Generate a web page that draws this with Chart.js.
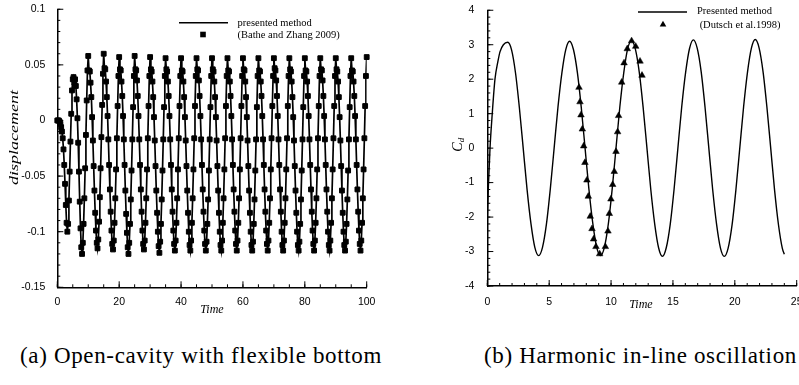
<!DOCTYPE html>
<html><head><meta charset="utf-8">
<script src="https://cdn.jsdelivr.net/npm/chart.js@4.4.1/dist/chart.umd.min.js"></script>
<style>
html,body{margin:0;padding:0;background:#fff;}
#wrap{position:relative;width:799px;height:385px;overflow:hidden;background:#fff;}
canvas{position:absolute;top:0;}
.cap{position:absolute;font-family:'Liberation Serif',serif;font-size:23px;color:#000;white-space:nowrap;line-height:1;}
</style></head>
<body><div id="wrap">
<canvas id="c1" width="400" height="335" style="left:0"></canvas>
<canvas id="c2" width="420" height="335" style="left:400px"></canvas>
<div class="cap" id="capA" style="left:20px;top:344px">(a) Open-cavity with flexible bottom</div>
<div class="cap" id="capB" style="left:484px;top:344px">(b) Harmonic in-line oscillation</div>
</div>
<script>
// ---------------- data: (a) open cavity displacement ----------------
const dispTime = [
0,0.25,0.5,0.75,1,1.25,1.5,1.75,2,2.25,2.5,2.75,3,3.25,3.5,3.75,4,4.25,4.5,4.75,
5,5.25,5.5,5.75,6,6.25,6.5,6.75,7,7.25,7.5,7.75,8,8.25,8.5,8.75,9,9.25,9.5,9.75,
10,10.25,10.5,10.75,11,11.25,11.5,11.75,12,12.25,12.5,12.75,13,13.25,13.5,13.75,14,14.25,14.5,14.75,
15,15.25,15.5,15.75,16,16.25,16.5,16.75,17,17.25,17.5,17.75,18,18.25,18.5,18.75,19,19.25,19.5,19.75,
20,20.25,20.5,20.75,21,21.25,21.5,21.75,22,22.25,22.5,22.75,23,23.25,23.5,23.75,24,24.25,24.5,24.75,
25,25.25,25.5,25.75,26,26.25,26.5,26.75,27,27.25,27.5,27.75,28,28.25,28.5,28.75,29,29.25,29.5,29.75,
30,30.25,30.5,30.75,31,31.25,31.5,31.75,32,32.25,32.5,32.75,33,33.25,33.5,33.75,34,34.25,34.5,34.75,
35,35.25,35.5,35.75,36,36.25,36.5,36.75,37,37.25,37.5,37.75,38,38.25,38.5,38.75,39,39.25,39.5,39.75,
40,40.25,40.5,40.75,41,41.25,41.5,41.75,42,42.25,42.5,42.75,43,43.25,43.5,43.75,44,44.25,44.5,44.75,
45,45.25,45.5,45.75,46,46.25,46.5,46.75,47,47.25,47.5,47.75,48,48.25,48.5,48.75,49,49.25,49.5,49.75,
50,50.25,50.5,50.75,51,51.25,51.5,51.75,52,52.25,52.5,52.75,53,53.25,53.5,53.75,54,54.25,54.5,54.75,
55,55.25,55.5,55.75,56,56.25,56.5,56.75,57,57.25,57.5,57.75,58,58.25,58.5,58.75,59,59.25,59.5,59.75,
60,60.25,60.5,60.75,61,61.25,61.5,61.75,62,62.25,62.5,62.75,63,63.25,63.5,63.75,64,64.25,64.5,64.75,
65,65.25,65.5,65.75,66,66.25,66.5,66.75,67,67.25,67.5,67.75,68,68.25,68.5,68.75,69,69.25,69.5,69.75,
70,70.25,70.5,70.75,71,71.25,71.5,71.75,72,72.25,72.5,72.75,73,73.25,73.5,73.75,74,74.25,74.5,74.75,
75,75.25,75.5,75.75,76,76.25,76.5,76.75,77,77.25,77.5,77.75,78,78.25,78.5,78.75,79,79.25,79.5,79.75,
80,80.25,80.5,80.75,81,81.25,81.5,81.75,82,82.25,82.5,82.75,83,83.25,83.5,83.75,84,84.25,84.5,84.75,
85,85.25,85.5,85.75,86,86.25,86.5,86.75,87,87.25,87.5,87.75,88,88.25,88.5,88.75,89,89.25,89.5,89.75,
90,90.25,90.5,90.75,91,91.25,91.5,91.75,92,92.25,92.5,92.75,93,93.25,93.5,93.75,94,94.25,94.5,94.75,
95,95.25,95.5,95.75,96,96.25,96.5,96.75,97,97.25,97.5,97.75,98,98.25,98.5,98.75,99,99.25,99.5,99.75,
100];
const dispValue = [
0.000,0.000,0.000,-0.001,-0.003,-0.006,-0.010,-0.016,-0.026,-0.040,-0.057,-0.076,-0.092,-0.100,-0.093,-0.072,-0.046,-0.019,0.006,0.027,
0.037,0.039,0.034,0.037,0.031,0.019,0.002,-0.020,-0.046,-0.073,-0.097,-0.114,-0.120,-0.110,-0.093,-0.070,-0.043,-0.013,0.018,0.045,
0.058,0.045,0.044,0.034,0.021,0.003,-0.018,-0.041,-0.063,-0.083,-0.099,-0.110,-0.115,-0.107,-0.091,-0.069,-0.043,-0.015,0.014,0.042,
0.060,0.047,0.046,0.035,0.021,0.004,-0.017,-0.040,-0.062,-0.082,-0.099,-0.111,-0.116,-0.108,-0.092,-0.070,-0.044,-0.016,0.013,0.040,
0.057,0.046,0.045,0.035,0.022,0.004,-0.017,-0.040,-0.063,-0.084,-0.101,-0.114,-0.120,-0.110,-0.093,-0.071,-0.045,-0.017,0.012,0.040,
0.058,0.046,0.045,0.036,0.022,0.004,-0.017,-0.040,-0.062,-0.082,-0.099,-0.111,-0.116,-0.108,-0.092,-0.070,-0.044,-0.016,0.013,0.040,
0.057,0.046,0.044,0.035,0.021,0.003,-0.018,-0.041,-0.063,-0.083,-0.100,-0.113,-0.119,-0.109,-0.093,-0.071,-0.045,-0.017,0.012,0.040,
0.056,0.046,0.044,0.035,0.022,0.004,-0.017,-0.040,-0.062,-0.082,-0.099,-0.111,-0.117,-0.108,-0.092,-0.070,-0.044,-0.016,0.013,0.040,
0.056,0.045,0.044,0.035,0.021,0.003,-0.018,-0.041,-0.063,-0.083,-0.100,-0.112,-0.117,-0.108,-0.092,-0.070,-0.044,-0.016,0.013,0.040,
0.056,0.046,0.045,0.036,0.022,0.004,-0.017,-0.040,-0.062,-0.082,-0.099,-0.111,-0.117,-0.109,-0.093,-0.071,-0.045,-0.017,0.012,0.040,
0.056,0.046,0.044,0.035,0.021,0.003,-0.018,-0.041,-0.063,-0.083,-0.100,-0.112,-0.117,-0.108,-0.092,-0.070,-0.044,-0.016,0.013,0.040,
0.056,0.045,0.044,0.035,0.022,0.004,-0.017,-0.040,-0.062,-0.082,-0.099,-0.111,-0.117,-0.108,-0.092,-0.070,-0.044,-0.016,0.013,0.040,
0.056,0.046,0.045,0.035,0.021,0.003,-0.018,-0.041,-0.063,-0.083,-0.100,-0.112,-0.117,-0.109,-0.093,-0.071,-0.045,-0.017,0.012,0.040,
0.056,0.045,0.044,0.035,0.022,0.004,-0.017,-0.040,-0.062,-0.082,-0.099,-0.111,-0.117,-0.108,-0.092,-0.070,-0.044,-0.016,0.013,0.040,
0.056,0.047,0.045,0.036,0.022,0.004,-0.017,-0.040,-0.062,-0.082,-0.100,-0.112,-0.117,-0.108,-0.092,-0.070,-0.044,-0.016,0.013,0.040,
0.056,0.046,0.044,0.035,0.021,0.003,-0.018,-0.041,-0.063,-0.083,-0.100,-0.112,-0.117,-0.109,-0.093,-0.071,-0.045,-0.017,0.012,0.040,
0.056,0.045,0.044,0.035,0.022,0.004,-0.017,-0.040,-0.062,-0.082,-0.099,-0.111,-0.117,-0.108,-0.092,-0.070,-0.044,-0.016,0.013,0.040,
0.056,0.046,0.045,0.036,0.022,0.004,-0.017,-0.040,-0.062,-0.082,-0.100,-0.112,-0.117,-0.108,-0.092,-0.070,-0.044,-0.016,0.013,0.040,
0.056,0.046,0.044,0.035,0.021,0.003,-0.018,-0.041,-0.063,-0.083,-0.100,-0.112,-0.117,-0.109,-0.093,-0.071,-0.045,-0.017,0.012,0.040,
0.056,0.045,0.044,0.035,0.022,0.004,-0.017,-0.040,-0.062,-0.082,-0.099,-0.111,-0.117,-0.108,-0.092,-0.070,-0.044,-0.016,0.013,0.040,
0.057];
const dispXTicks = [0, 20, 40, 60, 80, 100];
const dispYTicks = [-0.15, -0.1, -0.05, 0, 0.05, 0.1];

// ---------------- data: (b) harmonic in-line oscillation ----------------
const cdTime = [0,0.1,0.22,0.4,0.62,0.85,1.03,1.3,
1.65,1.96,2.28,2.59,2.9,3.21,3.53,3.84,4.15,4.46,4.78,5.09,5.4,5.71,6.03,6.34,
6.65,6.96,7.28,7.59,7.9,8.21,8.53,8.84,9.15,9.46,9.78,10.09,10.4,10.71,11.03,11.34,
11.65,11.96,12.28,12.59,12.9,13.21,13.53,13.84,14.15,14.46,14.78,15.09,15.4,15.71,16.03,16.34,
16.65,16.96,17.28,17.59,17.9,18.21,18.53,18.84,19.15,19.46,19.78,20.09,20.4,20.71,21.03,21.34,
21.65,21.96,22.28,22.59,22.9,23.21,23.53,23.84,24];
const cdValue = [-2.0,-1.0,0.0,1.0,2.0,2.5,2.8,3.0,
3.07,2.85,2.18,1.18,0.0,-1.19,-2.2,-2.88,-3.12,-2.88,-2.2,-1.19,0.0,1.19,2.19,2.86,
3.1,2.86,2.19,1.19,0.0,-1.19,-2.2,-2.88,-3.12,-2.88,-2.2,-1.19,0.0,1.2,2.2,2.88,
3.12,2.88,2.2,1.19,0.0,-1.2,-2.21,-2.89,-3.14,-2.89,-2.21,-1.2,0.0,1.2,2.21,2.89,
3.14,2.9,2.22,1.2,0.0,-1.2,-2.22,-2.9,-3.14,-2.9,-2.22,-1.2,0.0,1.2,2.22,2.9,
3.15,2.91,2.22,1.2,0.0,-1.21,-2.23,-2.91,-3.08];
const refTime = [7.41,7.49,7.57,7.68,7.79,7.89,8.05,8.16,8.32,8.46,8.59,8.78,9.08,9.54,9.75,9.86,9.99,10.13,10.26,10.40,10.53,10.61,10.86,11.05,11.31,11.66,11.99,12.34,12.50];
const refValue = [1.76,1.34,0.96,0.55,0.06,-0.42,-0.93,-1.40,-1.98,-2.34,-2.64,-2.86,-3.07,-2.86,-2.41,-1.90,-1.48,-1.06,-0.68,-0.10,0.47,0.94,1.91,2.47,2.88,3.11,2.95,2.52,2.11];
const cdXTicks = [0, 5, 10, 15, 20, 25];
const cdYTicks = [-4, -3, -2, -1, 0, 1, 2, 3, 4];

// ---------------- helpers ----------------
Chart.defaults.font.family = "'Liberation Sans', Arial, sans-serif";
Chart.defaults.color = '#000';
const pts = (xs, ys) => xs.map((x, i) => ({x, y: ys[i]}));

function drawText(ctx, t) {
  ctx.save();
  ctx.font = t.font;
  ctx.fillStyle = '#000';
  ctx.textAlign = t.align || 'center';
  ctx.textBaseline = 'middle';
  ctx.translate(t.x, t.y);
  if (t.rot) ctx.rotate(t.rot);
  if (t.width) { const w = ctx.measureText(t.text).width; ctx.scale(t.width / w, 1); }
  ctx.fillText(t.text, 0, 0);
  ctx.restore();
}

const decor = {
  id: 'decor',
  afterDraw(chart, args, o) {
    const {ctx, chartArea: a, scales: {x, y}} = chart;
    ctx.save();
    ctx.strokeStyle = '#000';
    ctx.lineWidth = 1;
    const tick = (scale, step, len, horiz) => {
      const n = Math.round((scale.max - scale.min) / step);
      for (let i = 0; i <= n; i++) {
        const p = scale.getPixelForValue(scale.min + i * step);
        ctx.beginPath();
        if (horiz) { ctx.moveTo(p, a.bottom); ctx.lineTo(p, a.bottom - len); }
        else { ctx.moveTo(a.left, p); ctx.lineTo(a.left + len, p); }
        ctx.stroke();
      }
    };
    tick(x, o.xMinor, 3, true); tick(x, o.xMajor, 6, true);
    tick(y, o.yMinor, 3, false); tick(y, o.yMajor, 6, false);
    // legend
    ctx.lineWidth = 1.5;
    ctx.beginPath(); ctx.moveTo(o.leg.x1, o.leg.y1); ctx.lineTo(o.leg.x2, o.leg.y1); ctx.stroke();
    ctx.fillStyle = '#000';
    const mx = o.leg.mx, my = o.leg.my;
    ctx.beginPath();
    if (o.leg.marker === 'rect') { ctx.rect(mx - 2.8, my - 2.8, 5.6, 5.6); }
    else { ctx.moveTo(mx, my - 3.8); ctx.lineTo(mx + 3.3, my + 1.9); ctx.lineTo(mx - 3.3, my + 1.9); ctx.closePath(); }
    ctx.fill();
    ctx.restore();
    o.texts.forEach(t => drawText(ctx, t));
    if (o.sub) {
      const s = o.sub;
      ctx.save();
      ctx.translate(s.x, s.y); ctx.rotate(-Math.PI / 2);
      ctx.fillStyle = '#000'; ctx.textBaseline = 'middle'; ctx.textAlign = 'center';
      ctx.font = "italic 14px 'Liberation Serif'";
      ctx.fillText('C', -2, 0);
      ctx.font = "italic 9px 'Liberation Serif'";
      ctx.fillText('d', 5, 4);
      ctx.restore();
    }
  }
};

function axisOpts(ticksArr, yw, xh, pad, isY) {
  return {
    type: 'linear',
    min: ticksArr[0], max: ticksArr[ticksArr.length - 1],
    afterBuildTicks: s => { s.ticks = ticksArr.map(v => ({value: v})); },
    afterFit: s => { if (isY) s.width = yw; else s.height = xh; },
    grid: {display: false},
    border: {display: true, color: '#000', width: 1.5},
    ticks: {
      padding: pad, maxRotation: 0, autoSkip: false, color: '#000',
      font: {size: 10.5, lineHeight: 1},
      callback: v => String(+Number(v).toFixed(2))
    }
  };
}

// ---------------- chart (a) ----------------
new Chart(document.getElementById('c1'), {
  type: 'scatter',
  data: {
    datasets: [
      {data: pts(dispTime, dispValue), showLine: false, pointStyle: 'rect', pointRadius: 3.4,
       pointBorderWidth: 1, backgroundColor: '#000', borderColor: '#000', clip: false, order: 0},
      {data: pts(dispTime, dispValue), showLine: true, pointRadius: 0, borderColor: '#000',
       borderWidth: 1.7, tension: 0, order: 1}
    ]
  },
  options: {
    responsive: false, animation: false,
    layout: {padding: {left: 0, top: 6, right: 33.3, bottom: 0}},
    plugins: {
      legend: {display: false}, tooltip: {enabled: false},
      decor: {
        xMajor: 20, xMinor: 5, yMajor: 0.05, yMinor: 0.01,
        leg: {x1: 179, x2: 228, y1: 22.7, mx: 203, my: 34.5, marker: 'rect'},
        texts: [
          {text: 'presented method', x: 237.5, y: 23, align: 'left', font: "10.5px 'Liberation Serif'"},
          {text: '(Bathe and Zhang 2009)', x: 237.5, y: 35, align: 'left', font: "10.5px 'Liberation Serif'"},
          {text: 'Time', x: 212, y: 310, font: "italic 12px 'Liberation Serif'"},
          {text: 'displacement', x: 15, y: 137.5, rot: -Math.PI / 2, width: 95, font: "italic 13px 'Liberation Serif'"}
        ]
      }
    },
    scales: {
      x: axisOpts(dispXTicks, 57.3, 47.7, 2, false),
      y: axisOpts(dispYTicks, 57.3, 47.7, 4, true)
    }
  },
  plugins: [decor]
});

// ---------------- chart (b) ----------------
new Chart(document.getElementById('c2'), {
  type: 'scatter',
  data: {
    datasets: [
      {data: pts(refTime, refValue), showLine: false, pointStyle: 'triangle', pointRadius: 3.8,
       pointBorderWidth: 0.5, backgroundColor: '#000', borderColor: '#000', clip: false, order: 0},
      {data: pts(cdTime, cdValue), showLine: true, pointRadius: 0, borderColor: '#000',
       borderWidth: 1.4, cubicInterpolationMode: 'monotone', order: 1}
    ]
  },
  options: {
    responsive: false, animation: false,
    layout: {padding: {left: 0, top: 4.7, right: 23.3, bottom: 0}},
    plugins: {
      legend: {display: false}, tooltip: {enabled: false},
      decor: {
        xMajor: 5, xMinor: 1, yMajor: 1, yMinor: 0.2,
        leg: {x1: 238, x2: 287, y1: 12, mx: 263, my: 24.5, marker: 'tri'},
        texts: [
          {text: 'Presented method', x: 297, y: 11.7, align: 'left', font: "10.5px 'Liberation Serif'"},
          {text: ' (Dutsch et al.1998)', x: 297, y: 25.5, align: 'left', font: "10.5px 'Liberation Serif'"},
          {text: 'Time', x: 241, y: 305, font: "italic 12px 'Liberation Serif'"}
        ],
        sub: {x: 58, y: 145}
      }
    },
    scales: {
      x: axisOpts(cdXTicks, 87.3, 49, 3, false),
      y: axisOpts(cdYTicks, 87.3, 49, 5, true)
    }
  },
  plugins: [decor]
});

// captions: fit to the widths seen in the reference
function fitCaption(id, target) {
  const el = document.getElementById(id);
  const w = el.getBoundingClientRect().width;
  const n = el.textContent.length;
  el.style.letterSpacing = ((target - w) / n) + 'px';
}
fitCaption('capA', 362);
fitCaption('capB', 313);
</script>
</body></html>
